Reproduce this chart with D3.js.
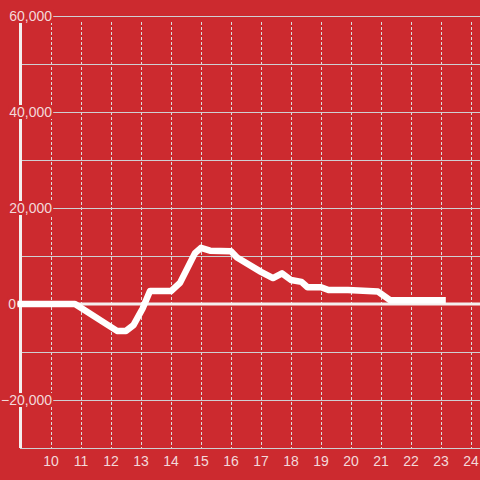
<!DOCTYPE html>
<html>
<head>
<meta charset="utf-8">
<script src="https://cdn.jsdelivr.net/npm/d3@7"></script>
<style>
  html, body { margin: 0; padding: 0; background: #cc2a2f; }
  svg { display: block; }
  text { font-family: "Liberation Sans", Arial, sans-serif; font-size: 14px; fill: #f3d9da; }
</style>
</head>
<body>
<svg id="chart" width="480" height="480"></svg>
<script>
const hours  = [8.88, 10.8, 12.2, 12.5, 12.75, 13.05, 13.3, 14.0, 14.3, 14.8, 15.0, 15.3, 16.0, 16.2, 17.0, 17.4, 17.7, 18.0, 18.35, 18.55, 19.0, 19.25, 19.9, 20.9, 21.3, 23.16];
const values = [0, 0, -5600, -5600, -4400, -1000, 2700, 2700, 4400, 10600, 11700, 11100, 11000, 9700, 6700, 5400, 6400, 5000, 4600, 3500, 3500, 2900, 2900, 2600, 800, 800];
const xTicks = [10, 11, 12, 13, 14, 15, 16, 17, 18, 19, 20, 21, 22, 23, 24];
const yGrid  = [-30000, -20000, -10000, 0, 10000, 20000, 30000, 40000, 50000, 60000];
const yLabels = [-20000, 0, 20000, 40000, 60000];

const W = 480, H = 480, BG = "#cc2a2f";
const svg = d3.select("#chart");
svg.append("rect").attr("width", W).attr("height", H).attr("fill", BG);

const x = d3.scaleLinear().domain([9, 24.3]).range([21, 480]);
const y = d3.scaleLinear().domain([-30000, 60000]).range([448, 16]);

// vertical dashed gridlines
svg.append("g").selectAll("line").data(xTicks).join("line")
  .attr("x1", d => x(d) + 0.5).attr("x2", d => x(d) + 0.5)
  .attr("y1", 22).attr("y2", 448)
  .attr("stroke", "#dcdcdc").attr("stroke-width", 1).attr("stroke-dasharray", "3,2");

// horizontal gridlines
svg.append("g").selectAll("line").data(yGrid.filter(d => d !== 0)).join("line")
  .attr("x1", 20).attr("x2", W)
  .attr("y1", d => y(d) + 0.5).attr("y2", d => y(d) + 0.5)
  .attr("stroke", "#cfcfd2").attr("stroke-width", 1);

// y axis line
svg.append("line").attr("x1", 20.5).attr("x2", 20.5).attr("y1", 16).attr("y2", 448)
  .attr("stroke", "#f4efef").attr("stroke-width", 3);

// zero line
svg.append("line").attr("x1", 17).attr("x2", W).attr("y1", y(0)).attr("y2", y(0))
  .attr("stroke", "#f4efef").attr("stroke-width", 3);

// data line
const data = hours.map((h, i) => [h, values[i]]);
svg.append("path").datum(data)
  .attr("d", d3.line().x(d => x(d[0])).y(d => y(d[1])))
  .attr("fill", "none").attr("stroke", "#ffffff").attr("stroke-width", 6.5)
  .attr("stroke-linejoin", "round").attr("stroke-linecap", "butt");

// y labels with background
const fmt = d3.format(",");
const yl = svg.append("g");
yLabels.forEach(v => {
  const g = yl.append("g");
  const t = g.append("text")
    .attr("x", v === 0 ? 16 : 52).attr("y", y(v) + 5)
    .attr("text-anchor", "end").text(fmt(v));
  const b = t.node().getBBox();
  g.insert("rect", "text").attr("x", b.x - 1).attr("y", b.y + 1).attr("width", b.width + 2).attr("height", b.height - 2)
    .attr("fill", BG);
});

// x labels
svg.append("g").selectAll("text").data(xTicks).join("text")
  .attr("x", d => x(d)).attr("y", 466).attr("text-anchor", "middle").text(d => d);
</script>
</body>
</html>
